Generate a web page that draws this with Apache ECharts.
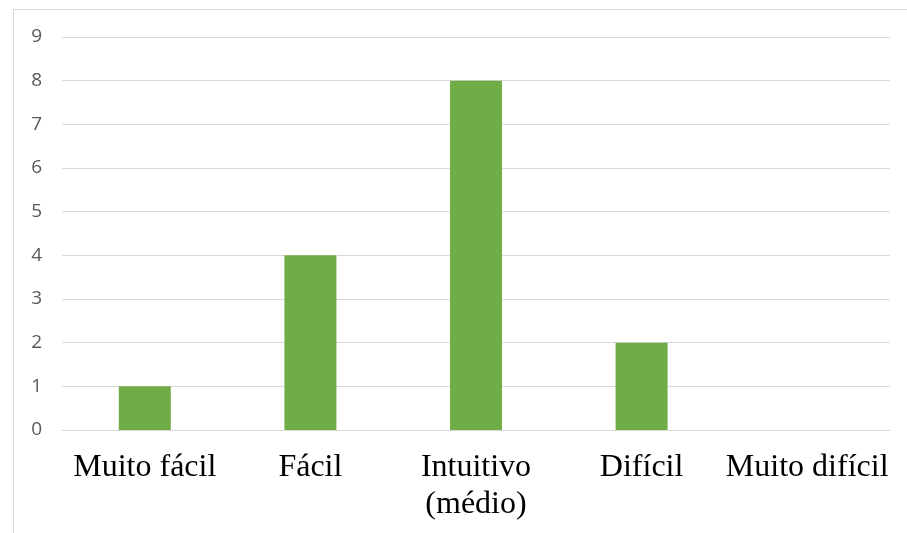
<!DOCTYPE html>
<html>
<head>
<meta charset="utf-8">
<script src="https://cdn.jsdelivr.net/npm/echarts@6/dist/echarts.min.js"></script>
<style>
  html, body { margin: 0; padding: 0; background: #ffffff; }
  #chart { width: 907px; height: 533px; }
</style>
</head>
<body>
<div id="chart"></div>
<script>
// Difficulty ratings and how many answers fell in each
const categories = ['Muito fácil', 'Fácil', 'Intuitivo\n(médio)', 'Difícil', 'Muito difícil'];
const counts = [1, 4, 8, 2, 0];
const yTicks = [0, 1, 2, 3, 4, 5, 6, 7, 8, 9];

const chart = echarts.init(document.getElementById('chart'), null, { renderer: 'canvas' });

chart.setOption({
  animation: false,
  backgroundColor: '#ffffff',
  graphic: [{
    type: 'rect',
    left: 11,
    top: 7,
    shape: { width: 1000, height: 1000 },
    style: { fill: 'none', stroke: '#d9d9d9', lineWidth: 1 },
    silent: true
  }],
  grid: { left: 62, right: 17, top: 37, bottom: 103, containLabel: false },
  xAxis: {
    type: 'category',
    data: categories,
    axisLine: { show: true, lineStyle: { color: '#d9d9d9', width: 1 } },
    axisTick: { show: false },
    axisLabel: {
      interval: 0,
      margin: 19,
      color: '#000000',
      fontFamily: 'Liberation Serif',
      fontSize: 32,
      lineHeight: 37
    }
  },
  yAxis: {
    type: 'value',
    min: yTicks[0],
    max: yTicks[yTicks.length - 1],
    interval: 1,
    axisLine: { show: false },
    axisTick: { show: false },
    splitLine: { lineStyle: { color: '#d9d9d9', width: 1 } },
    axisLabel: {
      margin: 20,
      color: '#595959',
      fontFamily: 'Open Sans',
      fontSize: 19
    }
  },
  series: [{
    type: 'bar',
    data: counts,
    barWidth: 52,
    itemStyle: { color: '#70ad47' }
  }]
});
</script>
</body>
</html>
